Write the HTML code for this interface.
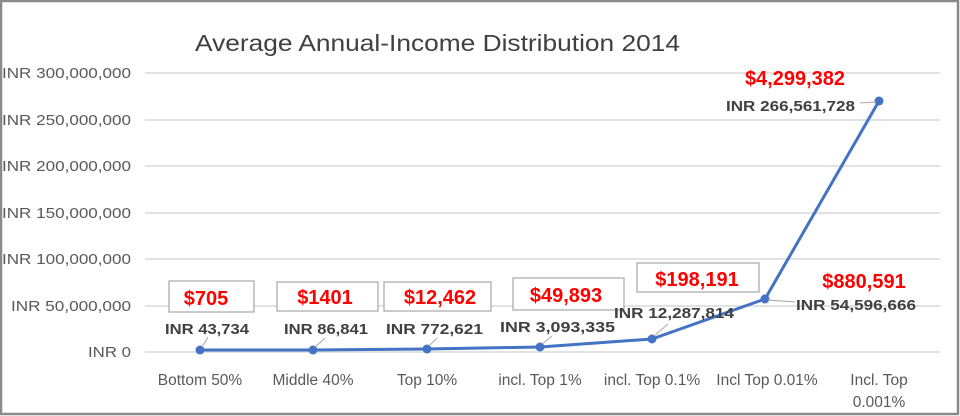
<!DOCTYPE html>
<html><head><meta charset="utf-8"><style>
body{margin:0;background:#fff;}
svg{display:block;font-family:"Liberation Sans",sans-serif;}
</style></head><body>
<svg width="960" height="416" viewBox="0 0 960 416">
<rect x="1" y="1" width="957" height="413" fill="#fff" stroke="#8a8a8a" stroke-width="2.5"/>
<text x="195" y="51" font-size="23" fill="#404040" textLength="485" lengthAdjust="spacingAndGlyphs">Average Annual-Income  Distribution 2014</text>
<g stroke="#d9d9d9" stroke-width="1.5">
<line x1="145" y1="73" x2="940" y2="73"/>
<line x1="145" y1="120" x2="940" y2="120"/>
<line x1="145" y1="166" x2="940" y2="166"/>
<line x1="145" y1="213" x2="940" y2="213"/>
<line x1="145" y1="259" x2="940" y2="259"/>
<line x1="145" y1="306" x2="940" y2="306"/>
<line x1="145" y1="352" x2="940" y2="352"/>
</g>
<g font-size="15" fill="#595959">
<text x="2" y="78" textLength="129" lengthAdjust="spacingAndGlyphs">INR 300,000,000</text>
<text x="2" y="125" textLength="129" lengthAdjust="spacingAndGlyphs">INR 250,000,000</text>
<text x="2" y="171" textLength="129" lengthAdjust="spacingAndGlyphs">INR 200,000,000</text>
<text x="2" y="218" textLength="129" lengthAdjust="spacingAndGlyphs">INR 150,000,000</text>
<text x="2" y="264" textLength="129" lengthAdjust="spacingAndGlyphs">INR 100,000,000</text>
<text x="11" y="311" textLength="120" lengthAdjust="spacingAndGlyphs">INR 50,000,000</text>
<text x="88" y="357" textLength="43" lengthAdjust="spacingAndGlyphs">INR 0</text>
</g>
<g font-size="15.5" fill="#595959" text-anchor="middle">
<text x="200" y="385">Bottom 50%</text>
<text x="313" y="385">Middle 40%</text>
<text x="427" y="385">Top 10%</text>
<text x="540" y="385">incl. Top 1%</text>
<text x="652" y="385">incl. Top 0.1%</text>
<text x="767" y="385">Incl Top 0.01%</text>
<text x="879" y="385">Incl. Top</text>
<text x="879" y="407">0.001%</text>
</g>
<polyline points="200,350 313,350 427,349 540,347 652,339 765,299 879,101" fill="none" stroke="#4472c4" stroke-width="3"/>
<g fill="#4472c4">
<circle cx="200" cy="350" r="4.5"/><circle cx="313" cy="350" r="4.5"/><circle cx="427" cy="349" r="4.5"/>
<circle cx="540" cy="347" r="4.5"/><circle cx="652" cy="339" r="4.5"/><circle cx="765" cy="299" r="4.5"/><circle cx="879" cy="101" r="4.5"/>
</g>
<g stroke="#a6a6a6" stroke-width="1">
<line x1="202" y1="347" x2="208" y2="337"/>
<line x1="315" y1="347" x2="325" y2="338"/>
<line x1="429" y1="346" x2="437" y2="338"/>
<line x1="542" y1="344" x2="552" y2="336"/>
<line x1="654" y1="336" x2="668" y2="324"/>
<line x1="768" y1="300" x2="795" y2="302"/>
<line x1="860" y1="103" x2="876" y2="102"/>
</g>
<g fill="#fff" stroke="#a6a6a6" stroke-width="1.2">
<rect x="169" y="281" width="85" height="31"/>
<rect x="277" y="282" width="101" height="29"/>
<rect x="384" y="282" width="107" height="29"/>
<rect x="513" y="278" width="111" height="32"/>
<rect x="637" y="263" width="122" height="29"/>
</g>
<g font-size="20" font-weight="bold" fill="#ff0000" text-anchor="middle">
<text x="206" y="305">$705</text>
<text x="325" y="304">$1401</text>
<text x="440" y="304">$12,462</text>
<text x="566" y="302">$49,893</text>
<text x="697" y="286">$198,191</text>
<text x="795" y="85">$4,299,382</text>
<text x="864" y="288">$880,591</text>
</g>
<g font-size="15" font-weight="bold" fill="#404040">
<text x="165" y="334" textLength="84" lengthAdjust="spacingAndGlyphs">INR 43,734</text>
<text x="284" y="334" textLength="84" lengthAdjust="spacingAndGlyphs">INR 86,841</text>
<text x="386" y="334" textLength="97" lengthAdjust="spacingAndGlyphs">INR 772,621</text>
<text x="500" y="332" textLength="115" lengthAdjust="spacingAndGlyphs">INR 3,093,335</text>
<text x="614" y="318" textLength="120" lengthAdjust="spacingAndGlyphs">INR 12,287,814</text>
<text x="796" y="310" textLength="120" lengthAdjust="spacingAndGlyphs">INR 54,596,666</text>
<text x="726" y="111" textLength="129" lengthAdjust="spacingAndGlyphs">INR 266,561,728</text>
</g>
</svg>
</body></html>
